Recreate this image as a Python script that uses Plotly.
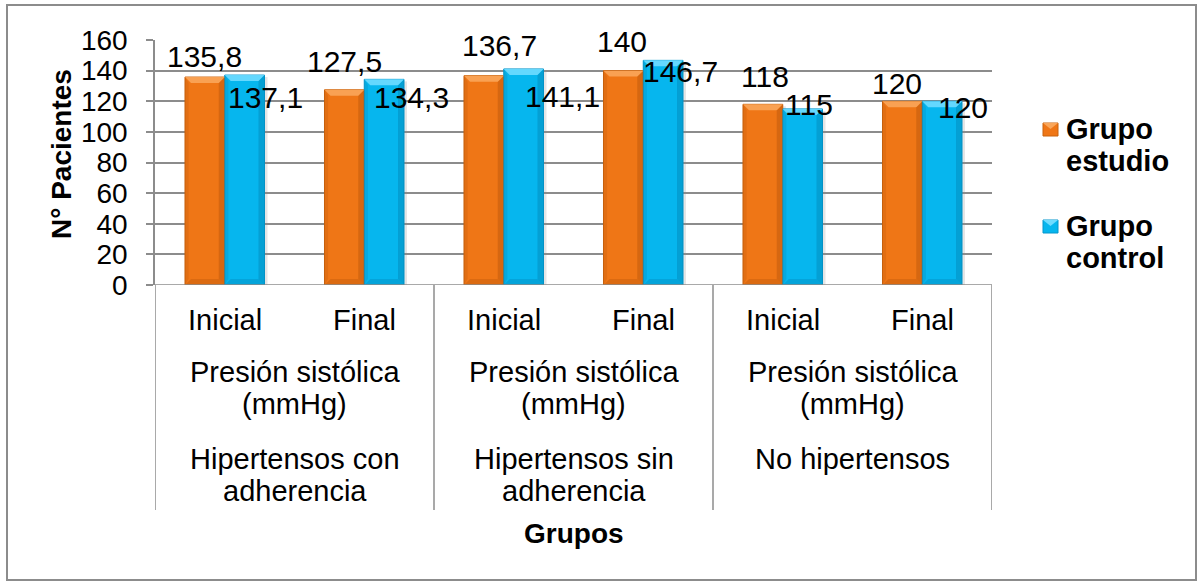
import plotly.graph_objects as go

# ---- data -------------------------------------------------------------
momentos = ["Inicial", "Final", "Inicial", "Final", "Inicial", "Final"]
variable = ["Presión sistólica", "(mmHg)"]
grupos = [["Hipertensos con", "adherencia"],
          ["Hipertensos sin", "adherencia"],
          ["No hipertensos"]]
series = ["Grupo estudio", "Grupo control"]
grupo_estudio = [135.8, 127.5, 136.7, 140.0, 118.0, 120.0]
grupo_control = [137.1, 134.3, 141.1, 146.7, 115.0, 120.0]
etiquetas_estudio = ["135,8", "127,5", "136,7", "140", "118", "120"]
etiquetas_control = ["137,1", "134,3", "141,1", "146,7", "115", "120"]
y_ticks = [0, 20, 40, 60, 80, 100, 120, 140, 160]

# ---- layout geometry (pixels) -----------------------------------------
W, H = 1198, 582
ML, MR, MT, MB = 155, 206, 40, 297
PW, PH = W - ML - MR, H - MT - MB
YMAX = 160
BARGAP = 0.43
BW = (1 - BARGAP) / 2           # bar width in category units

FONT = "Liberation Sans, Arial, sans-serif"
GRID = "#8c8c8c"
ORANGE = dict(fill="#EF7616", light="#F9A65A", dark="#B8560A", edge="#C9620D")
BLUE = dict(fill="#06B6EE", light="#6FDCFF", dark="#0384B4", edge="#0596CC")

# label offsets (px) from the bar top centre: (dx, dy down)
off_estudio = [(0, -21), (0, -28), (16, -30), (-1, -29), (2, -28), (-5, -18)]
off_control = [(21, 22), (27, 18), (39, 28), (17, 11), (6, -4), (21, 6)]


def py(ypix):
    """pixel row -> paper y"""
    return (MT + PH - ypix) / PH


def pxp(xpix):
    """pixel column -> paper x"""
    return (xpix - ML) / PW


dx_unit = 6 / PW                # 1 px in category units (6 categories over PW)
dy_unit = YMAX / PH             # 1 px in value units

x_idx = list(range(len(momentos)))
fig = go.Figure()
for name, vals, col in [(series[0], grupo_estudio, ORANGE),
                        (series[1], grupo_control, BLUE)]:
    fig.add_trace(go.Bar(
        x=x_idx, y=vals, name=name,
        marker=dict(color=col["fill"], line=dict(color=col["edge"], width=1)),
        offsetgroup=name, showlegend=False, hoverinfo="y",
    ))

shapes = []
annotations = []

# bevel / shading on the bars
for vals, col, sign in [(grupo_estudio, ORANGE, -1), (grupo_control, BLUE, 1)]:
    for i, v in enumerate(vals):
        c = i + sign * BW / 2
        x0, x1 = c - BW / 2, c + BW / 2
        b = 6
        bx, by = b * dx_unit, b * dy_unit
        # drop shadow on the right
        shapes.append(dict(type="rect", xref="x", yref="y", layer="below",
                           x0=x1, x1=x1 + 3 * dx_unit, y0=0, y1=v - 2 * dy_unit,
                           fillcolor="rgba(0,0,0,0.10)", line_width=0))
        # right edge darker
        shapes.append(dict(type="path", xref="x", yref="y",
                           path=f"M{x1},{v} L{x1 - bx},{v - by} L{x1 - bx},{by} L{x1},0 Z",
                           fillcolor=col["dark"], opacity=0.45, line_width=0))
        # left edge slightly darker
        shapes.append(dict(type="path", xref="x", yref="y",
                           path=f"M{x0},{v} L{x0 + bx * 0.6},{v - by} L{x0 + bx * 0.6},{by} L{x0},0 Z",
                           fillcolor=col["dark"], opacity=0.25, line_width=0))
        # bottom bevel
        shapes.append(dict(type="path", xref="x", yref="y",
                           path=f"M{x0},0 L{x1},0 L{x1 - bx},{by} L{x0 + bx},{by} Z",
                           fillcolor=col["dark"], opacity=0.35, line_width=0))
        # top bevel (light)
        shapes.append(dict(type="path", xref="x", yref="y",
                           path=f"M{x0},{v} L{x1},{v} L{x1 - bx},{v - by} L{x0 + bx},{v - by} Z",
                           fillcolor=col["light"], opacity=0.9, line_width=0))

# data labels
for vals, labels, offs, sign in [(grupo_estudio, etiquetas_estudio, off_estudio, -1),
                                 (grupo_control, etiquetas_control, off_control, 1)]:
    for i, (v, t, (ox, oy)) in enumerate(zip(vals, labels, offs)):
        annotations.append(dict(
            x=i + sign * BW / 2, y=v, xref="x", yref="y", text=t, showarrow=False,
            xanchor="center", yanchor="middle", xshift=ox, yshift=-oy,
            font=dict(family=FONT, size=30, color="#000000")))

# category level 1
for i, m in enumerate(momentos):
    annotations.append(dict(x=i, y=py(320), xref="x", yref="paper", text=m,
                            showarrow=False, yanchor="middle",
                            font=dict(family=FONT, size=29, color="#000000")))

# category levels 2 and 3
for g, lines in enumerate(grupos):
    gc = 2 * g + 0.5
    for k, t in enumerate(variable):
        annotations.append(dict(x=gc, y=py(372 + 32 * k), xref="x", yref="paper",
                                text=t, showarrow=False, yanchor="middle",
                                font=dict(family=FONT, size=29, color="#000000")))
    for k, t in enumerate(lines):
        annotations.append(dict(x=gc, y=py(459 + 32 * k), xref="x", yref="paper",
                                text=t, showarrow=False, yanchor="middle",
                                font=dict(family=FONT, size=29, color="#000000")))

# group separators on the category axis
for xb in [-0.5, 1.5, 3.5, 5.5]:
    shapes.append(dict(type="line", xref="x", yref="paper", x0=xb, x1=xb,
                       y0=0, y1=py(510), line=dict(color=GRID, width=1.5)))

# axis titles
annotations.append(dict(x=0.5, y=py(533), xref="paper", yref="paper", text="<b>Grupos</b>",
                        showarrow=False, yanchor="middle",
                        font=dict(family=FONT, size=28, color="#000000")))
annotations.append(dict(x=pxp(61), y=py(154), xref="paper", yref="paper",
                        text="<b>N° Pacientes</b>", textangle=-90, showarrow=False,
                        xanchor="center", yanchor="middle",
                        font=dict(family=FONT, size=28, color="#000000")))

# legend
leg = [(series[0], ORANGE, 129), (series[1], BLUE, 226)]
for name, col, yc in leg:
    shapes.append(dict(type="rect", xref="paper", yref="paper",
                       x0=pxp(1043), x1=pxp(1058), y0=py(yc + 7), y1=py(yc - 6),
                       fillcolor=col["fill"], line=dict(color=col["edge"], width=1)))
    shapes.append(dict(type="path", xref="paper", yref="paper",
                       path=f"M{pxp(1043)},{py(yc - 6)} L{pxp(1058)},{py(yc - 6)} "
                            f"L{pxp(1050.5)},{py(yc)} Z",
                       fillcolor=col["light"], line_width=0))
    for k, word in enumerate(name.split(" ")):
        annotations.append(dict(x=pxp(1064), y=py(yc + 32 * k), xref="paper", yref="paper",
                                text=f"<b>{word}</b>", showarrow=False,
                                xanchor="left", yanchor="middle",
                                font=dict(family=FONT, size=29, color="#000000")))

# outer chart border
shapes.append(dict(type="rect", xref="paper", yref="paper",
                   x0=pxp(7), x1=pxp(1196), y0=py(580), y1=py(5),
                   line=dict(color="#8c8c8c", width=2), fillcolor="rgba(0,0,0,0)"))

# horizontal axis line along zero, extending through the first tick
shapes.append(dict(type="line", xref="paper", yref="y", x0=pxp(148), x1=1,
                   y0=0, y1=0, line=dict(color=GRID, width=1.5)))

fig.update_layout(
    width=W, height=H,
    margin=dict(l=ML, r=MR, t=MT, b=MB, pad=0),
    paper_bgcolor="white", plot_bgcolor="white",
    barmode="group", bargap=BARGAP, bargroupgap=0,
    shapes=shapes, annotations=annotations,
    font=dict(family=FONT, color="#000000"),
    xaxis=dict(range=[-0.5, 5.5], showticklabels=False, showgrid=False,
               zeroline=False, showline=False, ticks=""),
    yaxis=dict(range=[0, YMAX], tickvals=y_ticks, showgrid=True, gridcolor=GRID,
               gridwidth=1.5, zeroline=False, showline=True, linecolor=GRID,
               linewidth=1.5, ticks="outside", ticklen=7, tickcolor=GRID,
               tickwidth=1.5, ticklabelstandoff=13,
               tickfont=dict(family=FONT, size=28, color="#000000")),
)

fig.write_html("out.html")
